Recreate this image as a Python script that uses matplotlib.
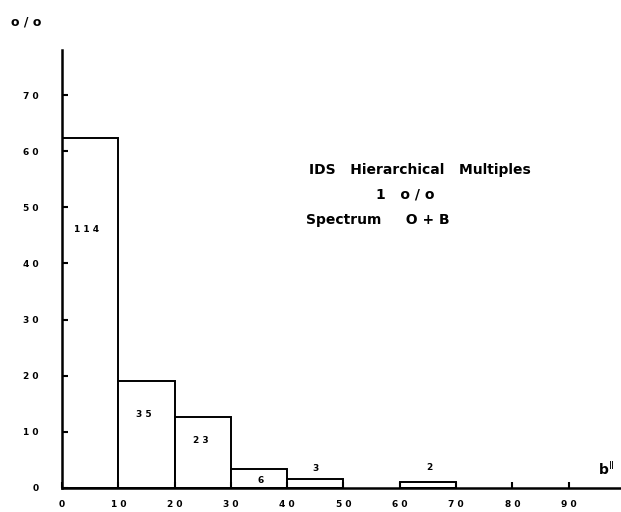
import matplotlib
matplotlib.use("Agg")
import matplotlib.pyplot as plt

# histogram data: bin edges (b^II), percent of sample, number of systems
bin_left = [0, 10, 20, 30, 40, 60]
percent = [62.3, 19.1, 12.6, 3.3, 1.6, 1.1]
counts = [114, 35, 23, 6, 3, 2]
count_pos = [(4.3, 46.0), (14.5, 13.0), (24.6, 8.4), (35.3, 1.3), (45.0, 3.4), (65.2, 3.6)]
xticks = [0, 10, 20, 30, 40, 50, 60, 70, 80, 90]
yticks = [0, 10, 20, 30, 40, 50, 60, 70]

plt.rcParams['font.family'] = ['DejaVu Sans']

fig = plt.figure(figsize=(6.21, 5.12), dpi=100)
ax = fig.add_axes([0.0998, 0.047, 0.902, 0.855])

ax.bar(bin_left, percent, width=10, align='edge', facecolor='white',
       edgecolor='black', linewidth=1.4)

for c, (x, y) in zip(counts, count_pos):
    ax.text(x, y, " ".join(str(c)), ha='center', va='center',
            fontsize=6.5, fontweight='bold')

ax.set_xlim(0, 99.5)
ax.set_ylim(0, 78)
for s in ['top', 'right']:
    ax.spines[s].set_visible(False)
for s in ['left', 'bottom']:
    ax.spines[s].set_linewidth(1.8)

ax.set_xticks(xticks)
ax.set_yticks(yticks)
ax.set_xticklabels([" ".join(str(v)) for v in xticks])
ax.set_yticklabels([" ".join(str(v)) for v in yticks])
ax.tick_params(direction='in', length=4, width=1.5, labelsize=6.5)
for lab in ax.get_xticklabels() + ax.get_yticklabels():
    lab.set_fontweight('bold')
ax.tick_params(axis='y', pad=17)
ax.tick_params(axis='x', pad=9)

fig.text(0.042, 0.957, "o / o", fontsize=9, fontweight='bold', ha='center', va='center')
ax.text(96.8, 1.8, r"b$^{\mathrm{II}}$", fontsize=10, fontweight='bold', ha='center', va='bottom')

ax.text(43.8, 56.7, "IDS   Hierarchical   Multiples", fontsize=10, fontweight='bold',
        ha='left', va='center')
ax.text(61.0, 52.2, "1   o / o", fontsize=10, fontweight='bold', ha='center', va='center')
ax.text(43.4, 47.8, "Spectrum     O + B", fontsize=10, fontweight='bold', ha='left', va='center')

fig.savefig("out.png", dpi=100)
